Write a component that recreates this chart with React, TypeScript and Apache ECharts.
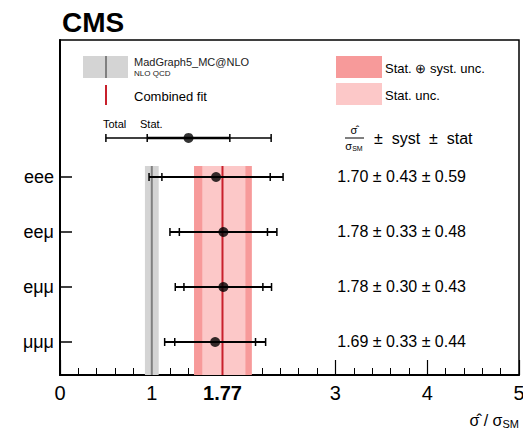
import React, { useEffect, useRef } from "react";
import * as echarts from "echarts";

// ---- data ----
const channels = ["eee", "eeμ", "eμμ", "μμμ"];
const rowPositions = [4, 3, 2, 1];
const centralValues = [1.7, 1.78, 1.78, 1.69];
const systUnc = [0.43, 0.33, 0.3, 0.33];
const statUnc = [0.59, 0.48, 0.43, 0.44];

const combinedFit = 1.77;
const combinedTotalUnc = [0.31, 0.32]; // down, up
const combinedStatUnc = [0.22, 0.25]; // down, up

const smPrediction = 1.0;
const smUnc = 0.075;

const legendExampleValue = 1.4;
const legendExampleStat = 0.45;
const legendExampleTotal = 0.9;
const legendExampleRow = 4.71;

const xTickLabels = [0, 1, 1.77, 3, 4, 5];

// ---- layout constants ----
const Y_MIN = 0.4;
const Y_MAX = 6.49;
const BAND_TOP = 4.2;
const TEXT_X = 3.02;
const FONT = "'Liberation Sans', Arial, Helvetica, sans-serif";

export default function App() {
  const ref = useRef<HTMLDivElement>(null);

  useEffect(() => {
    document.body.style.margin = "0";
    if (!ref.current) return;
    const chart = echarts.init(ref.current, null, { renderer: "svg" });

    const rows = channels.map((_, i) => {
      const c = centralValues[i];
      const tot = Math.sqrt(systUnc[i] ** 2 + statUnc[i] ** 2);
      return [c, c - tot, c + tot, c - statUnc[i], c + statUnc[i], rowPositions[i], 2];
    });
    const legendRow = [
      legendExampleValue,
      legendExampleValue - legendExampleTotal,
      legendExampleValue + legendExampleTotal,
      legendExampleValue - legendExampleStat,
      legendExampleValue + legendExampleStat,
      legendExampleRow,
      1,
    ];

    const bands = [
      [smPrediction - smUnc, smPrediction + smUnc, BAND_TOP, 0],
      [combinedFit - combinedTotalUnc[0], combinedFit + combinedTotalUnc[1], BAND_TOP, 1],
      [combinedFit - combinedStatUnc[0], combinedFit + combinedStatUnc[1], BAND_TOP, 2],
    ];
    const bandColors = ["#d4d4d4", "#f79a9a", "#fcc8c8"];
    const vLines = [
      [smPrediction, BAND_TOP, 0],
      [combinedFit, BAND_TOP, 1],
    ];
    const vLineColors = ["#808080", "#c8202c"];

    const option: any = {
      animation: false,
      backgroundColor: "#ffffff",
      textStyle: { fontFamily: FONT },
      grid: {
        left: 60,
        top: 40,
        right: 4,
        bottom: 61,
        show: true,
        borderColor: "#000",
        borderWidth: 1.5,
        containLabel: false,
        outerBoundsMode: "none",
      },
      xAxis: {
        type: "value",
        min: 0,
        max: 5,
        interval: 1,
        splitLine: { show: false },
        axisLine: { show: true, lineStyle: { color: "#000", width: 2 } },
        axisTick: { show: true, inside: true, length: 15, lineStyle: { color: "#000", width: 1.2 } },
        minorTick: { show: true, splitNumber: 5, length: 7, lineStyle: { color: "#000", width: 1 } },
        minorSplitLine: { show: false },
        axisLabel: {
          customValues: xTickLabels,
          margin: 8,
          color: "#000",
          fontSize: 20,
          fontFamily: FONT,
          formatter: (v: number) =>
            Math.abs(v - combinedFit) < 1e-6 ? "{b|" + v.toFixed(2) + "}" : String(v),
          rich: { b: { fontSize: 20, fontWeight: "bold", color: "#000", fontFamily: FONT } },
        },
      },
      yAxis: {
        type: "value",
        min: Y_MIN,
        max: Y_MAX,
        splitLine: { show: false },
        axisLine: { show: true, lineStyle: { color: "#000", width: 2 } },
        axisTick: {
          show: true,
          inside: true,
          length: 12,
          customValues: rowPositions,
          lineStyle: { color: "#000", width: 1.5 },
        },
        axisLabel: {
          customValues: rowPositions,
          margin: 6,
          color: "#000",
          fontSize: 18,
          fontFamily: FONT,
          formatter: (v: number) => channels[rowPositions.indexOf(Math.round(v))] ?? "",
        },
      },
      series: [
        {
          type: "custom",
          z: 1,
          silent: true,
          clip: false,
          encode: { x: [0, 1], y: 2 },
          data: bands,
          renderItem: (_p: any, api: any) => {
            const a = api.coord([api.value(0), api.value(2)]);
            const b = api.coord([api.value(1), Y_MIN]);
            return {
              type: "rect",
              shape: { x: a[0], y: a[1], width: b[0] - a[0], height: b[1] - a[1] },
              style: { fill: bandColors[api.value(3)] },
            };
          },
        },
        {
          type: "custom",
          z: 2,
          silent: true,
          encode: { x: 0, y: 1 },
          data: vLines,
          renderItem: (_p: any, api: any) => {
            const a = api.coord([api.value(0), api.value(1)]);
            const b = api.coord([api.value(0), Y_MIN]);
            return {
              type: "line",
              shape: { x1: a[0], y1: a[1], x2: b[0], y2: b[1] },
              style: { stroke: vLineColors[api.value(2)], lineWidth: 2 },
            };
          },
        },
        {
          type: "custom",
          z: 3,
          silent: true,
          encode: { x: [0, 1, 2], y: 5 },
          data: [...rows, legendRow],
          renderItem: (_p: any, api: any) => {
            const y = api.value(5);
            const isLegend = api.value(6) === 1;
            const lo = api.coord([api.value(1), y]);
            const hi = api.coord([api.value(2), y]);
            const slo = api.coord([api.value(3), y]);
            const shi = api.coord([api.value(4), y]);
            const st = { stroke: "#000", lineWidth: 2 };
            const capH = 4;
            const inH = 4;
            const children: any[] = [];
            if (isLegend) {
              children.push(
                { type: "line", shape: { x1: lo[0], y1: lo[1], x2: slo[0], y2: slo[1] }, style: { stroke: "#000", lineWidth: 1.5 } },
                { type: "line", shape: { x1: shi[0], y1: shi[1], x2: hi[0], y2: hi[1] }, style: { stroke: "#000", lineWidth: 1.5 } },
                { type: "line", shape: { x1: slo[0], y1: slo[1], x2: shi[0], y2: shi[1] }, style: { stroke: "#000", lineWidth: 2.5 } }
              );
            } else {
              children.push({ type: "line", shape: { x1: lo[0], y1: lo[1], x2: hi[0], y2: hi[1] }, style: st });
            }
            for (const p of [lo, hi]) {
              children.push({ type: "line", shape: { x1: p[0], y1: p[1] - capH, x2: p[0], y2: p[1] + capH }, style: { stroke: "#000", lineWidth: 1.5 } });
            }
            for (const p of [slo, shi]) {
              children.push({ type: "line", shape: { x1: p[0], y1: p[1] - inH, x2: p[0], y2: p[1] + inH }, style: { stroke: "#000", lineWidth: 1.5 } });
            }
            return { type: "group", children };
          },
        },
        {
          type: "scatter",
          z: 4,
          silent: true,
          symbol: "circle",
          symbolSize: 10,
          itemStyle: { color: "#000" },
          data: [...rows.map((r) => [r[0], r[5]]), [legendExampleValue, legendExampleRow]],
        },
        {
          type: "custom",
          z: 4,
          silent: true,
          encode: { x: 0, y: 1 },
          data: channels.map((_, i) => [TEXT_X, rowPositions[i], i]),
          renderItem: (_p: any, api: any) => {
            const i = api.value(2);
            const p = api.coord([api.value(0), api.value(1)]);
            return {
              type: "text",
              x: p[0],
              y: p[1],
              style: {
                text: `${centralValues[i].toFixed(2)} ± ${systUnc[i].toFixed(2)} ± ${statUnc[i].toFixed(2)}`,
                fontSize: 16,
                fontFamily: FONT,
                fill: "#000",
                align: "left",
                verticalAlign: "middle",
              },
            };
          },
        },
      ],
      graphic: [
        { type: "text", left: 62, top: 8, style: { text: "CMS", fontSize: 28, fontWeight: "bold", fontFamily: FONT, fill: "#000" } },
        // legend: MadGraph
        { type: "rect", shape: { x: 83, y: 56, width: 45, height: 22 }, style: { fill: "#d4d4d4" } },
        { type: "line", shape: { x1: 106, y1: 56, x2: 106, y2: 78 }, style: { stroke: "#808080", lineWidth: 2 } },
        { type: "text", x: 134, y: 62, style: { text: "MadGraph5_MC@NLO", fontSize: 11, fontFamily: FONT, fill: "#222", verticalAlign: "middle" } },
        { type: "text", x: 134, y: 73, style: { text: "NLO QCD", fontSize: 8, fontFamily: FONT, fill: "#222", verticalAlign: "middle" } },
        { type: "line", shape: { x1: 106, y1: 85, x2: 106, y2: 105 }, style: { stroke: "#c8202c", lineWidth: 2 } },
        { type: "text", x: 134, y: 96, style: { text: "Combined fit", fontSize: 13, fontFamily: FONT, fill: "#000", verticalAlign: "middle" } },
        // legend: bands
        { type: "rect", shape: { x: 336, y: 56, width: 46, height: 22 }, style: { fill: "#f79a9a" } },
        { type: "text", x: 385, y: 68, style: { text: "Stat. ⊕ syst. unc.", fontSize: 13, fontFamily: FONT, fill: "#000", verticalAlign: "middle" } },
        { type: "rect", shape: { x: 336, y: 83, width: 46, height: 22 }, style: { fill: "#fcc8c8" } },
        { type: "text", x: 385, y: 95, style: { text: "Stat. unc.", fontSize: 13, fontFamily: FONT, fill: "#000", verticalAlign: "middle" } },
        // legend: error bar labels
        { type: "text", x: 103, y: 124, style: { text: "Total", fontSize: 11, fontFamily: FONT, fill: "#000", verticalAlign: "middle" } },
        { type: "text", x: 140, y: 124, style: { text: "Stat.", fontSize: 11, fontFamily: FONT, fill: "#000", verticalAlign: "middle" } },
        // formula header
        { type: "text", x: 354, y: 130, style: { text: "σ̂", fontSize: 11, fontFamily: FONT, fill: "#000", align: "center", verticalAlign: "middle" } },
        { type: "line", shape: { x1: 345, y1: 138, x2: 364, y2: 138 }, style: { stroke: "#000", lineWidth: 1 } },
        {
          type: "text",
          x: 354,
          y: 146,
          style: {
            text: "{a|σ}{s|SM}",
            align: "center",
            verticalAlign: "middle",
            rich: {
              a: { fontSize: 11, fontFamily: FONT, fill: "#000" },
              s: { fontSize: 7, fontFamily: FONT, fill: "#000", padding: [5, 0, 0, 0] },
            },
          },
        },
        { type: "text", x: 374, y: 138, style: { text: "±  syst  ±  stat", fontSize: 16, fontFamily: FONT, fill: "#000", verticalAlign: "middle" } },
        // axis title
        {
          type: "text",
          x: 519,
          y: 420,
          style: {
            text: "{a|σ̂ / σ}{s|SM}",
            align: "right",
            verticalAlign: "middle",
            rich: {
              a: { fontSize: 16, fontFamily: FONT, fill: "#000" },
              s: { fontSize: 11, fontFamily: FONT, fill: "#000", padding: [7, 0, 0, 0] },
            },
          },
        },
      ],
    };

    chart.setOption(option);
    return () => chart.dispose();
  }, []);

  return <div ref={ref} style={{ width: 523, height: 436 }} />;
}
